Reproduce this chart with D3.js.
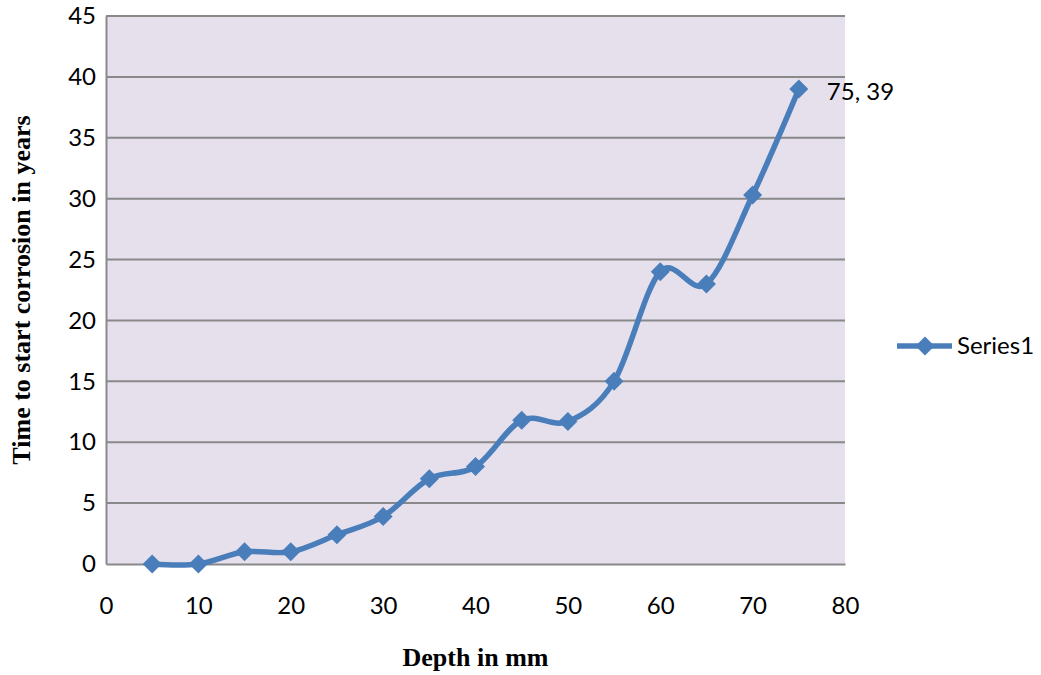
<!DOCTYPE html>
<html>
<head>
<meta charset="utf-8">
<script src="https://cdn.jsdelivr.net/npm/d3@7"></script>
<style>
  html, body { margin: 0; padding: 0; background: #fff; }
  svg { display: block; }
</style>
</head>
<body>
<svg id="chart" width="1041" height="675"></svg>
<script>
// Depth of cover (mm) and the time until corrosion starts (years)
const depthMm = [5, 10, 15, 20, 25, 30, 35, 40, 45, 50, 55, 60, 65, 70, 75];
const yearsToCorrosion = [0, 0, 1, 1, 2.4, 3.9, 7, 8, 11.8, 11.7, 15, 24, 23, 30.3, 39];
const xTicks = [0, 10, 20, 30, 40, 50, 60, 70, 80];
const yTicks = [0, 5, 10, 15, 20, 25, 30, 35, 40, 45];
const seriesName = "Series1";
const xTitle = "Depth in mm";
const yTitle = "Time to start corrosion in years";

const svg = d3.select("#chart");
const plot = { left: 106, top: 16, right: 845, bottom: 564 };

const x = d3.scaleLinear().domain([0, 80]).range([plot.left, plot.right]);
const y = d3.scaleLinear().domain([0, 45]).range([plot.bottom, plot.top]);

const blue = "#4a7ebb";
const grid = "#898989";
const tickFont = "Lato, 'Open Sans', sans-serif";
const titleFont = "'Liberation Serif', 'Times New Roman', serif";

// plot background
svg.append("rect")
  .attr("x", plot.left).attr("y", plot.top)
  .attr("width", plot.right - plot.left).attr("height", plot.bottom - plot.top)
  .attr("fill", "#e5e0ec");

// horizontal gridlines
svg.append("g").selectAll("line")
  .data(yTicks.filter(d => d > 0))
  .join("line")
  .attr("x1", plot.left).attr("x2", plot.right)
  .attr("y1", d => y(d)).attr("y2", d => y(d))
  .attr("stroke", grid).attr("stroke-width", 2);

// y axis
const yAxis = svg.append("g")
  .attr("transform", `translate(${plot.left},0)`)
  .call(d3.axisLeft(y).tickValues(yTicks).tickSize(0).tickPadding(10).tickFormat(d3.format("d")));
yAxis.select(".domain").attr("stroke", grid).attr("stroke-width", 2);
yAxis.selectAll("text")
  .attr("font-family", tickFont).attr("font-size", 24).attr("fill", "#000");

// x axis
const xAxis = svg.append("g")
  .attr("transform", `translate(0,${plot.bottom})`)
  .call(d3.axisBottom(x).tickValues(xTicks).tickSize(0).tickPadding(33).tickFormat(d3.format("d")));
xAxis.select(".domain").attr("stroke", grid).attr("stroke-width", 2);
xAxis.selectAll("text")
  .attr("font-family", tickFont).attr("font-size", 24).attr("fill", "#000");

// smoothed series line
const pts = depthMm.map((d, i) => [d, yearsToCorrosion[i]]);
const line = d3.line()
  .x(d => x(d[0])).y(d => y(d[1]))
  .curve(d3.curveCardinal.tension(0));

svg.append("path")
  .datum(pts)
  .attr("d", line)
  .attr("fill", "none")
  .attr("stroke", blue)
  .attr("stroke-width", 5.5)
  .attr("stroke-linejoin", "round");

// diamond markers
const diamond = d3.symbol().type(d3.symbolDiamond2).size(230);
svg.append("g").selectAll("path")
  .data(pts)
  .join("path")
  .attr("transform", d => `translate(${x(d[0])},${y(d[1])})`)
  .attr("d", diamond)
  .attr("fill", blue);

// label on the last point
const last = pts[pts.length - 1];
svg.append("text")
  .attr("x", x(last[0]) + 28).attr("y", y(last[1]) + 3)
  .attr("dy", "0.35em")
  .attr("font-family", tickFont).attr("font-size", 24)
  .text(`${last[0]}, ${last[1]}`);

// axis titles
svg.append("text")
  .attr("x", (plot.left + plot.right) / 2).attr("y", 666)
  .attr("text-anchor", "middle")
  .attr("font-family", titleFont).attr("font-weight", "bold").attr("font-size", 26)
  .text(xTitle);

svg.append("text")
  .attr("transform", `translate(30,${(plot.top + plot.bottom) / 2}) rotate(-90)`)
  .attr("text-anchor", "middle")
  .attr("font-family", titleFont).attr("font-weight", "bold").attr("font-size", 26)
  .text(yTitle);

// legend
const lg = svg.append("g").attr("transform", "translate(897,346)");
lg.append("line").attr("x1", 0).attr("x2", 55).attr("y1", 0).attr("y2", 0)
  .attr("stroke", blue).attr("stroke-width", 5.5);
lg.append("path").attr("transform", "translate(28,0)").attr("d", diamond).attr("fill", blue);
lg.append("text").attr("x", 60).attr("y", 0).attr("dy", "0.35em")
  .attr("font-family", tickFont).attr("font-size", 24)
  .text(seriesName);
</script>
</body>
</html>
